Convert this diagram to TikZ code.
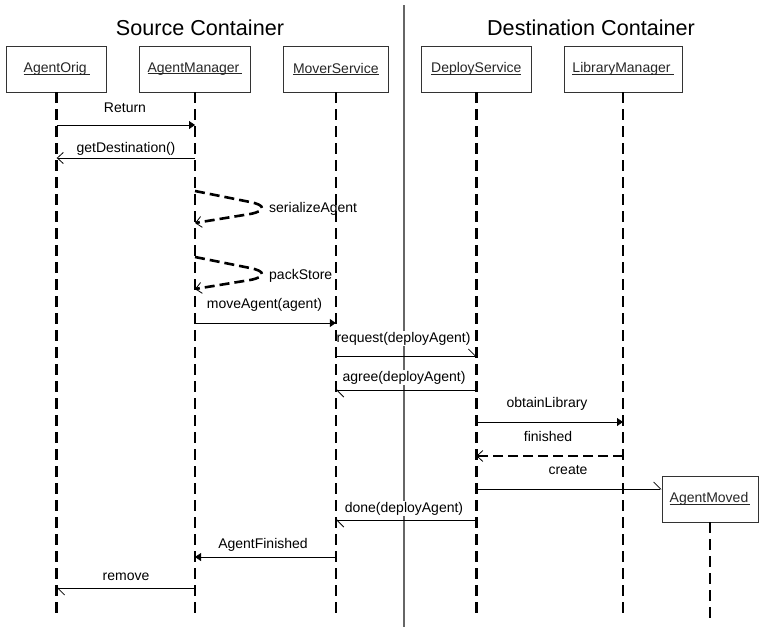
\documentclass[tikz,border=0pt]{standalone}
\usepackage{fontspec}
\setmainfont{Liberation Sans}
\usetikzlibrary{arrows.meta}
\newcommand\myul[1]{\setbox0\hbox{#1}\rlap{\copy0}\rule[-1.8pt]{\wd0}{0.7pt}}
\begin{document}
\begin{tikzpicture}[x=1pt,y=-1pt,
  obj/.style={draw=black!80, line width=0.8pt, minimum height=46pt, inner sep=0pt, text=black!85, font=\fontsize{14}{16}\selectfont},
  life/.style={line width=2.6pt, dash pattern=on 11pt off 6pt},
  lbl/.style={font=\fontsize{14}{16}\selectfont, fill=white, inner sep=1pt, anchor=base},
  ttl/.style={font=\fontsize{21.6}{24}\selectfont, anchor=base, inner sep=0pt},
  msg/.style={line width=0.8pt},
  fillarr/.style={msg, -{Triangle[length=6pt,width=8pt]}},
  openarr/.style={msg, -{Straight Barb[length=6pt,width=11pt,line width=0.8pt]}},
  halfarr/.style={msg, -{Straight Barb[harpoon,length=7pt,width=14pt,line width=0.8pt]}},
  loopd/.style={line width=2.6pt, dash pattern=on 10pt off 5pt, -{Straight Barb[length=6pt,width=11pt,line width=0.8pt]}}
]
\useasboundingbox (0,0) rectangle (759,627);
% divider
\coordinate (dtop) at (404,5);
\coordinate (dbot) at (404,627);
\draw[black!60, line width=1.3pt] (dtop) -- (dbot);
% titles
\node[ttl] (t1) at (200,35) {Source Container};
\node[ttl] (t2) at (591,35) {Destination Container};
% boxes
\node[obj, minimum width=100pt] (ao) at (56.7,69) {\myul{AgentOrig\kern3pt}};
\node[obj, minimum width=111.4pt] (am) at (195,69) {\myul{AgentManager\kern3pt}};
\node[obj, minimum width=105pt] (ms) at (335.8,69) {\myul{MoverService}};
\node[obj, minimum width=109.3pt] (ds) at (476.3,69) {\myul{DeployService}};
\node[obj, minimum width=118pt] (lm) at (623,69) {\myul{LibraryManager\kern3pt}};
\node[obj, minimum width=96pt] (mv) at (710,499) {\myul{AgentMoved\kern2pt}};
% labels
\node[lbl] (l1) at (125,112) {Return};
\node[lbl] (l2) at (126,152) {getDestination()};
\node[lbl, anchor=base west] (l3) at (268,212) {serializeAgent};
\node[lbl, anchor=base west] (l4) at (268,279) {packStore};
\node[lbl] (l5) at (264.5,308) {moveAgent(agent)};
\node[lbl] (l6) at (403.5,342) {request(deployAgent)};
\node[lbl] (l7) at (404,381) {agree(deployAgent)};
\node[lbl] (l8) at (547,407) {obtainLibrary};
\node[lbl] (l9) at (548,441) {finished};
\node[lbl] (l10) at (568,474) {create};
\node[lbl] (l11) at (404,512) {done(deployAgent)};
\node[lbl] (l12) at (263,548) {AgentFinished};
\node[lbl] (l13) at (126,580) {remove};
% lifelines
\coordinate (bot) at (0,618);
\foreach \n in {ao,am,ms,ds,lm,mv} {
  \draw[life] (\n.south) -- (\n.south |- bot);
}
% messages
\draw[fillarr] (ao |- 0,125) -- (am |- 0,125);
\draw[openarr] (am |- 0,158) -- (ao |- 0,158);
\draw[loopd] (am |- 0,191) -- (250,202) .. controls (266,205) and (266,211) .. (250,214) -- (am |- 0,223);
\draw[loopd] (am |- 0,257) -- (250,268) .. controls (266,271) and (266,277) .. (250,280) -- (am |- 0,289);
\draw[fillarr] (am |- 0,323) -- (ms |- 0,323);
\draw[halfarr] (ms |- 0,356) -- (ds |- 0,356);
\draw[halfarr] (ds |- 0,390) -- (ms |- 0,390);
\draw[fillarr] (ds |- 0,422) -- (lm |- 0,422);
\draw[msg, line width=2.6pt, dash pattern=on 10pt off 5pt, -{Straight Barb[length=6pt,width=11pt,line width=0.8pt]}] (lm |- 0,456) -- (ds |- 0,456);
\draw[halfarr] (ds |- 0,489) -- (mv.west |- 0,489);
\draw[halfarr] (ds |- 0,520) -- (ms |- 0,520);
\draw[fillarr] (ms |- 0,557) -- (am |- 0,557);
\draw[halfarr] (am |- 0,588) -- (ao |- 0,588);
\end{tikzpicture}
\end{document}
